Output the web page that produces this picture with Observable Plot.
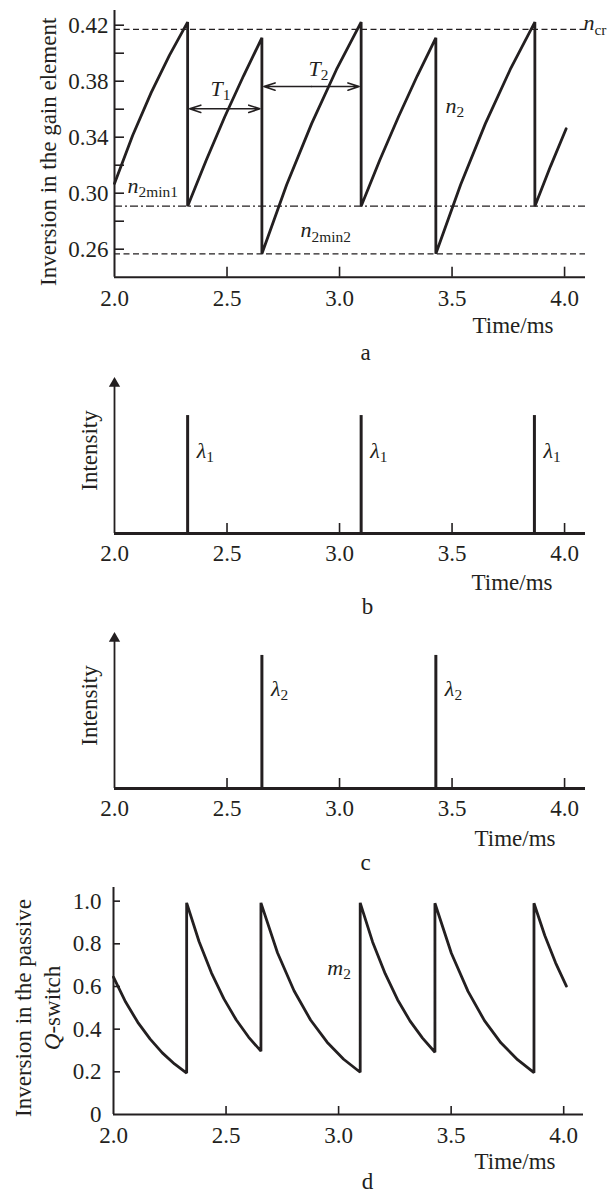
<!DOCTYPE html>
<html><head><meta charset="utf-8">
<script src="https://cdn.jsdelivr.net/npm/d3@7"></script>
<script src="https://cdn.jsdelivr.net/npm/@observablehq/plot@0.6"></script>
<style>
body{margin:0;background:#fff;}
#root{position:relative;width:610px;height:1194px;overflow:hidden;}
#root svg{position:absolute;left:0;}
</style></head><body><div id="root"></div>
<script>
// ---------- data ----------
const timeTicks = [2.0, 2.5, 3.0, 3.5, 4.0];
const timeTickMarks = [2.5, 3.0, 3.5, 4.0];
const gainTicks = [0.26, 0.28, 0.30, 0.32, 0.34, 0.36, 0.38, 0.40, 0.42];
const gainLabels = [0.26, 0.30, 0.34, 0.38, 0.42];
const qTicks = [0.2, 0.4, 0.6, 0.8, 1.0];
const qLabels = [0, 0.2, 0.4, 0.6, 0.8, 1.0];

// gain-element inversion n2 (panel a)
const n2Time = [2.000, 2.081, 2.163, 2.244, 2.325, 2.325, 2.408, 2.490, 2.573, 2.655,
                2.655, 2.765, 2.876, 2.986, 3.096, 3.096, 3.179, 3.262, 3.345, 3.428,
                3.428, 3.538, 3.648, 3.758, 3.868, 3.868, 3.937, 4.007];
const n2Value = [0.307, 0.3414, 0.3718, 0.3985, 0.4222, 0.2907, 0.3237, 0.3546, 0.3837, 0.411,
                 0.2567, 0.3061, 0.3497, 0.3882, 0.4222, 0.2907, 0.3237, 0.3546, 0.3837, 0.411,
                 0.2567, 0.3061, 0.3497, 0.3882, 0.4222, 0.2907, 0.319, 0.346];
const nCr = 0.417;
const n2min1 = 0.2907;
const n2min2 = 0.2567;

// periods T1, T2 (arrow start, arrow end, level)
const periodNames = ["T|1", "T|2"];
const periodStart = [2.325, 2.655];
const periodEnd = [2.655, 3.096];
const periodLevel = [0.3603, 0.3762];
const periodLabelTime = [2.427, 2.862];
const periodLabelLevel = [0.3748, 0.389];

// labels in panel a
const labelsA = ["n|2min1", "n|2min2", "n|2"];
const labelsATime = [2.058, 2.827, 3.471];
const labelsAValue = [0.3055, 0.2734, 0.3626];

// pulses (panels b, c)
const lambda1Times = [2.325, 3.096, 3.866];
const lambda1Height = 0.756;
const lambda1LabelLevel = 0.532;
const lambda2Times = [2.655, 3.428];
const lambda2Height = 0.853;
const lambda2LabelLevel = 0.641;

// passive Q-switch inversion m2 (panel d)
const m2Time = [2.000, 2.054, 2.108, 2.163, 2.217, 2.271, 2.325,
                2.325, 2.380, 2.435, 2.490, 2.545, 2.600, 2.655,
                2.655, 2.7285, 2.802, 2.8755, 2.949, 3.0225, 3.096,
                3.096, 3.151, 3.207, 3.262, 3.317, 3.373, 3.428,
                3.428, 3.501, 3.575, 3.648, 3.721, 3.795, 3.868,
                3.868, 3.916, 3.964, 4.012];
const m2Value = [0.644, 0.527, 0.432, 0.353, 0.289, 0.237, 0.194,
                 0.992, 0.811, 0.664, 0.543, 0.444, 0.363, 0.297,
                 0.992, 0.758, 0.580, 0.443, 0.339, 0.259, 0.198,
                 0.992, 0.809, 0.660, 0.538, 0.439, 0.358, 0.292,
                 0.990, 0.756, 0.577, 0.440, 0.336, 0.257, 0.196,
                 0.990, 0.839, 0.711, 0.602];
const m2Label = ["m|2"];
const m2LabelTime = [2.950];
const m2LabelValue = [0.689];

// ---------- styling ----------
const INK = "#231f20";
const FONT = "'Liberation Serif', 'Times New Roman', serif";
const style = {fontFamily: FONT, fontSize: "23px", color: INK, background: "transparent", overflow: "visible"};
const NOTE = 22;
const NS = "http://www.w3.org/2000/svg";
const root = document.getElementById("root");

function richify(svg) {
  for (const t of svg.querySelectorAll("text")) {
    if (t.querySelector("tspan")) continue;
    const s = t.textContent;
    let m;
    if ((m = s.match(/^(.+?)\|(.+)$/))) {
      t.textContent = "";
      const b = document.createElementNS(NS, "tspan");
      b.setAttribute("font-style", "italic");
      b.textContent = m[1];
      const sub = document.createElementNS(NS, "tspan");
      sub.setAttribute("font-size", "0.7em");
      sub.setAttribute("dy", "0.3em");
      sub.textContent = m[2];
      t.append(b, sub);
    } else if ((m = s.match(/^(Q)(-switch)$/))) {
      t.textContent = "";
      const b = document.createElementNS(NS, "tspan");
      b.setAttribute("font-style", "italic");
      b.textContent = m[1];
      const r = document.createElementNS(NS, "tspan");
      r.textContent = m[2];
      t.append(b, r);
    }
  }
}
function place(svg, top) {
  richify(svg);
  svg.style.position = "absolute";
  svg.style.top = top + "px";
  svg.style.left = "0px";
  root.append(svg);
}
// text placed relative to the frame
function frameText(str, frameAnchor, opts) {
  return Plot.text([str], {text: d => d, frameAnchor, textAnchor: "middle", lineAnchor: "middle", fill: INK, ...opts});
}

const xDomainA = [timeTicks[0], 4.093];
const fmt1 = d3.format(".1f");

// ---------- panel a ----------
const plotA = Plot.plot({
  width: 610, height: 368,
  marginTop: 10, marginBottom: 91.3, marginLeft: 114, marginRight: 25,
  x: {domain: xDomainA, axis: null},
  y: {domain: [0.24, 0.4305], axis: null},
  style,
  marks: [
    Plot.ruleY([nCr], {stroke: INK, strokeWidth: 1.3, strokeDasharray: "6,3.5"}),
    Plot.ruleY([n2min1], {stroke: INK, strokeWidth: 1.3, strokeDasharray: "8,3,2,3"}),
    Plot.ruleY([n2min2], {stroke: INK, strokeWidth: 1.3, strokeDasharray: "6,3.5"}),
    Plot.ruleX([timeTicks[0]], {stroke: INK, strokeWidth: 2}),
    Plot.ruleY([0.24], {stroke: INK, strokeWidth: 2}),
    Plot.axisY({ticks: gainTicks, tickSize: -10, fill: "none", stroke: INK, strokeWidth: 1.6, label: null}),
    Plot.axisY({ticks: gainLabels, tickSize: 0, tickPadding: 6, tickFormat: d3.format(".2f"), label: null}),
    Plot.axisX({ticks: timeTickMarks, tickSize: -10, fill: "none", stroke: INK, strokeWidth: 1.6, label: null}),
    Plot.axisX({ticks: timeTicks, tickSize: 0, tickPadding: 12, tickFormat: fmt1, label: null}),
    Plot.line(n2Time, {x: n2Time, y: n2Value, stroke: INK, strokeWidth: 2.8, strokeLinejoin: "miter"}),
    Plot.arrow(periodStart, {x1: (d, i) => (periodStart[i] + periodEnd[i]) / 2, x2: (d, i) => periodStart[i], y1: (d, i) => periodLevel[i], y2: (d, i) => periodLevel[i], bend: 0, headLength: 11, headAngle: 36, insetEnd: 2, stroke: INK, strokeWidth: 1.6}),
    Plot.arrow(periodEnd, {x1: (d, i) => (periodStart[i] + periodEnd[i]) / 2, x2: (d, i) => periodEnd[i], y1: (d, i) => periodLevel[i], y2: (d, i) => periodLevel[i], bend: 0, headLength: 11, headAngle: 36, insetEnd: 2, stroke: INK, strokeWidth: 1.6}),
    Plot.text(periodNames, {x: periodLabelTime, y: periodLabelLevel, text: d => d, textAnchor: "start", fontSize: NOTE, fill: INK}),
    Plot.text(labelsA, {x: labelsATime, y: labelsAValue, text: d => d, textAnchor: "start", fontSize: NOTE, fill: INK}),
    Plot.text(["n|cr"], {y: [nCr], text: d => d, frameAnchor: "right", textAnchor: "start", lineAnchor: "middle", dx: -2, dy: -6, fontSize: NOTE, fill: INK}),
    frameText("Inversion in the gain element", "left", {rotate: -90, dx: -66, dy: 8}),
    frameText("Time/ms", "bottom-right", {textAnchor: "end", dx: -32, dy: 48}),
    frameText("a", "bottom", {dx: 15.5, dy: 75})
  ]
});
place(plotA, 0);

// ---------- panels b & c ----------
function pulsePanel({height, marginTop, marginBottom, times, pulseHeight, label, labelLevel, timeDx, timeDy, caption, captionDx, captionDy, intensityDy}) {
  return Plot.plot({
    width: 610, height,
    marginTop, marginBottom, marginLeft: 114, marginRight: 25,
    x: {domain: xDomainA, axis: null},
    y: {domain: [0, 1], axis: null},
    style,
    marks: [
      Plot.ruleX([timeTicks[0]], {stroke: INK, strokeWidth: 1.8, insetTop: 4}),
      Plot.dot([timeTicks[0]], {x: d => d, frameAnchor: "top", symbol: "triangle", r: 4.2, fill: INK, stroke: "none", dy: 6}),
      Plot.axisX({ticks: timeTickMarks, tickSize: -10, fill: "none", stroke: INK, strokeWidth: 1.6, label: null}),
      Plot.axisX({ticks: timeTicks, tickSize: 0, tickPadding: 11, tickFormat: fmt1, label: null}),
      Plot.ruleX(times, {x: d => d, y1: 0, y2: pulseHeight, stroke: INK, strokeWidth: 3}),
      Plot.ruleY([0], {stroke: INK, strokeWidth: 3}),
      Plot.text(times, {x: d => d, y: labelLevel, text: () => label, dx: 9, textAnchor: "start", fontSize: NOTE, fill: INK}),
      frameText("Intensity", "left", {rotate: -90, dx: -25, dy: intensityDy}),
      frameText("Time/ms", "bottom-right", {textAnchor: "end", dx: timeDx, dy: timeDy}),
      frameText(caption, "bottom", {dx: captionDx, dy: captionDy})
    ]
  });
}
place(pulsePanel({height: 250, marginTop: 9, marginBottom: 85, times: lambda1Times, pulseHeight: lambda1Height,
  label: "λ|1", labelLevel: lambda1LabelLevel, timeDx: -33, timeDy: 49, caption: "b", captionDx: 17.5, captionDy: 73, intensityDy: -5}), 368);
place(pulsePanel({height: 257, marginTop: 14, marginBottom: 87, times: lambda2Times, pulseHeight: lambda2Height,
  label: "λ|2", labelLevel: lambda2LabelLevel, timeDx: -30, timeDy: 50, caption: "c", captionDx: 15.5, captionDy: 74, intensityDy: -5}), 618);

// ---------- panel d ----------
const plotD = Plot.plot({
  width: 610, height: 319,
  marginTop: 12, marginBottom: 80, marginLeft: 113, marginRight: 27,
  x: {domain: [timeTicks[0], 4.088], axis: null},
  y: {domain: [0, 1.064], axis: null},
  style,
  marks: [
    Plot.ruleX([timeTicks[0]], {stroke: INK, strokeWidth: 2}),
    Plot.ruleY([0], {stroke: INK, strokeWidth: 2}),
    Plot.axisY({ticks: qTicks, tickSize: -7, fill: "none", stroke: INK, strokeWidth: 1.6, label: null}),
    Plot.axisY({ticks: qLabels, tickSize: 0, tickPadding: 12, tickFormat: d => d === 0 ? "0" : d3.format(".1f")(d), label: null}),
    Plot.axisX({ticks: timeTickMarks, tickSize: -8, fill: "none", stroke: INK, strokeWidth: 1.6, label: null}),
    Plot.axisX({ticks: timeTicks, tickSize: 0, tickPadding: 12, tickFormat: fmt1, label: null}),
    Plot.line(m2Time, {x: m2Time, y: m2Value, stroke: INK, strokeWidth: 2.8, strokeLinejoin: "miter"}),
    Plot.text(m2Label, {x: m2LabelTime, y: m2LabelValue, text: d => d, textAnchor: "start", fontSize: NOTE, fill: INK}),
    frameText("Inversion in the passive", "left", {rotate: -90, dx: -90, dy: 7}),
    frameText("Q-switch", "left", {rotate: -90, dx: -61, dy: 7}),
    frameText("Time/ms", "bottom-right", {textAnchor: "end", dx: -28, dy: 47}),
    frameText("d", "bottom", {dx: 19, dy: 67})
  ]
});
place(plotD, 875);
</script>
</body></html>
